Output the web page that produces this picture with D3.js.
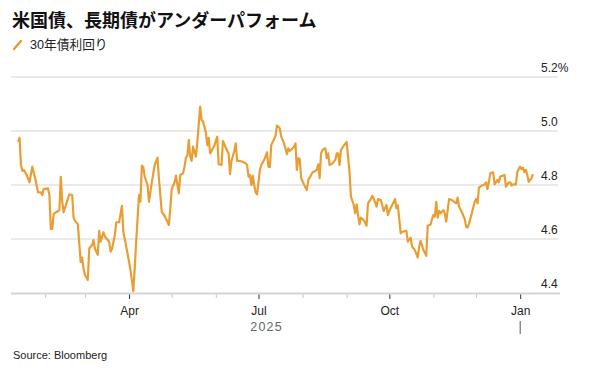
<!DOCTYPE html>
<html>
<head>
<meta charset="utf-8">
<script src="https://cdn.jsdelivr.net/npm/d3@7"></script>
<style>
  html, body { margin: 0; padding: 0; background: #fff; }
  svg { display: block; }
</style>
</head>
<body>
<svg id="chart" width="589" height="380"></svg>
<script>
const title = "米国債、長期債がアンダーパフォーム";
const seriesName = "30年債利回り";
const sourceText = "Source: Bloomberg";
const yTicks = [4.4, 4.6, 4.8, 5.0, 5.2];
const yTickLabels = ["4.4", "4.6", "4.8", "5.0", "5.2%"];
const monthLabels = { 0: "Jan", 3: "Apr", 6: "Jul", 9: "Oct" };
const yearLabel = "2025";

const dates = [
"2025-01-13","2025-01-14","2025-01-15","2025-01-16","2025-01-17","2025-01-19","2025-01-21","2025-01-23","2025-01-25","2025-01-27","2025-01-29","2025-01-30","2025-01-31",
"2025-02-03","2025-02-04","2025-02-05","2025-02-06","2025-02-07","2025-02-09","2025-02-11","2025-02-12","2025-02-13","2025-02-14","2025-02-16","2025-02-18","2025-02-20","2025-02-21","2025-02-22","2025-02-24","2025-02-26","2025-02-27","2025-02-28",
"2025-03-01","2025-03-03","2025-03-04","2025-03-06","2025-03-07","2025-03-08","2025-03-10","2025-03-11","2025-03-12","2025-03-14","2025-03-15","2025-03-18","2025-03-19","2025-03-20","2025-03-22","2025-03-23","2025-03-25","2025-03-27","2025-03-28","2025-03-30",
"2025-04-01","2025-04-02","2025-04-04","2025-04-05","2025-04-06","2025-04-08","2025-04-09","2025-04-10","2025-04-11","2025-04-12","2025-04-14","2025-04-15","2025-04-17","2025-04-19","2025-04-21","2025-04-22","2025-04-24","2025-04-26","2025-04-29","2025-04-30",
"2025-05-01","2025-05-03","2025-05-04","2025-05-05","2025-05-06","2025-05-07","2025-05-09","2025-05-10","2025-05-11","2025-05-12","2025-05-13","2025-05-14","2025-05-15","2025-05-16","2025-05-17","2025-05-18","2025-05-19","2025-05-21","2025-05-22","2025-05-23","2025-05-25","2025-05-26","2025-05-27","2025-05-28","2025-05-29","2025-05-31",
"2025-06-01","2025-06-02","2025-06-03","2025-06-05","2025-06-06","2025-06-07","2025-06-08","2025-06-10","2025-06-11","2025-06-12","2025-06-14","2025-06-15","2025-06-16","2025-06-18","2025-06-20","2025-06-22","2025-06-23","2025-06-24","2025-06-25","2025-06-26","2025-06-27","2025-06-28","2025-06-29","2025-06-30",
"2025-07-02","2025-07-03","2025-07-05","2025-07-07","2025-07-08","2025-07-09","2025-07-10","2025-07-12","2025-07-13","2025-07-14","2025-07-16","2025-07-17","2025-07-19","2025-07-21","2025-07-22","2025-07-23","2025-07-25","2025-07-26","2025-07-27","2025-07-28","2025-07-29","2025-07-30","2025-07-31",
"2025-08-02","2025-08-04","2025-08-05","2025-08-06","2025-08-08","2025-08-09","2025-08-11","2025-08-12","2025-08-13","2025-08-14","2025-08-15","2025-08-17","2025-08-18","2025-08-19","2025-08-20","2025-08-22","2025-08-24","2025-08-25","2025-08-26","2025-08-27","2025-08-28","2025-08-30",
"2025-09-01","2025-09-03","2025-09-04","2025-09-06","2025-09-07","2025-09-08","2025-09-09","2025-09-10","2025-09-11","2025-09-13","2025-09-15","2025-09-16","2025-09-18","2025-09-19","2025-09-20","2025-09-22","2025-09-23","2025-09-25","2025-09-26","2025-09-27","2025-09-29","2025-09-30",
"2025-10-02","2025-10-04","2025-10-05","2025-10-06","2025-10-07","2025-10-09","2025-10-10","2025-10-13","2025-10-14","2025-10-16","2025-10-17","2025-10-19","2025-10-21","2025-10-22","2025-10-23","2025-10-25","2025-10-27","2025-10-28","2025-10-30","2025-10-31",
"2025-11-01","2025-11-02","2025-11-03","2025-11-04","2025-11-05","2025-11-06","2025-11-08","2025-11-09","2025-11-10","2025-11-12","2025-11-14","2025-11-16","2025-11-17","2025-11-18","2025-11-19","2025-11-21","2025-11-23","2025-11-24","2025-11-25","2025-11-26","2025-11-28","2025-11-30",
"2025-12-01","2025-12-02","2025-12-03","2025-12-05","2025-12-07","2025-12-08","2025-12-09","2025-12-10","2025-12-11","2025-12-12","2025-12-13","2025-12-14","2025-12-16","2025-12-17","2025-12-18","2025-12-20","2025-12-21","2025-12-22","2025-12-24","2025-12-25","2025-12-26","2025-12-27","2025-12-29","2025-12-30",
"2026-01-01","2026-01-02","2026-01-03","2026-01-04","2026-01-05","2026-01-06","2026-01-07","2026-01-09","2026-01-10"
];

const yields = [
4.96,4.975,4.874,4.852,4.856,4.837,4.81,4.868,4.825,4.773,4.773,4.763,4.785,
4.788,4.763,4.637,4.637,4.693,4.70,4.707,4.83,4.738,4.699,4.732,4.765,4.763,4.679,4.667,4.654,4.514,4.531,4.491,
4.467,4.448,4.565,4.578,4.596,4.565,4.541,4.63,4.59,4.625,4.609,4.59,4.553,4.563,4.615,4.662,4.662,4.723,4.627,4.572,
4.516,4.485,4.407,4.491,4.59,4.763,4.738,4.872,4.866,4.831,4.80,4.738,4.81,4.874,4.901,4.825,4.70,4.686,4.652,4.714,
4.785,4.81,4.835,4.802,4.769,4.837,4.843,4.868,4.901,4.909,4.967,4.905,4.889,4.942,4.923,4.905,4.96,5.09,5.041,5.035,4.995,4.948,4.975,4.917,4.926,4.946,
4.963,4.979,4.877,4.874,4.963,4.951,4.938,4.917,4.84,4.889,4.926,4.954,4.889,4.889,4.886,4.88,4.874,4.831,4.837,4.80,4.835,4.80,4.773,4.765,
4.856,4.874,4.893,4.921,4.868,4.866,4.948,4.97,4.983,5.02,5.01,4.979,4.954,4.914,4.936,4.926,4.936,4.942,4.954,4.856,4.899,4.896,4.825,
4.802,4.781,4.819,4.827,4.847,4.849,4.856,4.877,4.825,4.917,4.93,4.936,4.899,4.917,4.874,4.88,4.893,4.917,4.917,4.874,4.93,4.946,
4.96,4.849,4.757,4.726,4.695,4.728,4.689,4.654,4.679,4.67,4.649,4.732,4.748,4.76,4.75,4.72,4.748,4.744,4.726,4.704,4.726,4.689,
4.716,4.736,4.748,4.714,4.724,4.621,4.627,4.63,4.59,4.605,4.572,4.559,4.531,4.572,4.593,4.559,4.538,4.649,4.654,4.674,
4.689,4.683,4.738,4.679,4.704,4.695,4.707,4.695,4.664,4.748,4.744,4.736,4.732,4.753,4.72,4.699,4.674,4.646,4.642,4.657,4.695,4.738,
4.748,4.732,4.79,4.798,4.802,4.81,4.785,4.81,4.843,4.846,4.847,4.802,4.819,4.81,4.831,4.835,4.837,4.794,4.81,4.81,4.798,4.802,4.802,4.849,
4.868,4.859,4.864,4.847,4.856,4.837,4.812,4.825,4.84
];

const lineColor = "#e99e34";
const sansFont = "'Liberation Sans', Arial, Helvetica, sans-serif";
const cjkFont = "'Noto Sans CJK JP', 'Noto Sans', sans-serif";

const parse = d3.utcParse("%Y-%m-%d");
const data = dates.map((d, i) => ({ date: parse(d), value: yields[i] }));

const svg = d3.select("#chart");

const x = d3.scaleUtc()
  .domain([parse("2025-01-08"), parse("2026-01-29")])
  .range([11, 560]);
const y = d3.scaleLinear().domain([4.4, 5.2]).range([293, 77]);

// Title
svg.append("text")
  .attr("x", 12).attr("y", 27)
  .attr("font-family", cjkFont)
  .attr("font-weight", 700)
  .attr("font-size", 18)
  .attr("fill", "#111")
  .text(title);

// Legend
svg.append("line")
  .attr("x1", 14).attr("y1", 49).attr("x2", 21).attr("y2", 41)
  .attr("stroke", lineColor).attr("stroke-width", 2.5).attr("stroke-linecap", "round");
svg.append("text")
  .attr("x", 30).attr("y", 49)
  .attr("font-family", sansFont + ", " + cjkFont)
  .attr("font-size", 12.7)
  .attr("fill", "#222")
  .text(seriesName);

// Gridlines
svg.append("g").selectAll("line")
  .data(yTicks.slice(1))
  .join("line")
  .attr("x1", 11).attr("x2", 558)
  .attr("y1", d => y(d)).attr("y2", d => y(d))
  .attr("stroke", "#d5d5d5").attr("stroke-width", 1);

// Y labels
svg.append("g").selectAll("text")
  .data(yTicks)
  .join("text")
  .attr("x", 541)
  .attr("y", d => y(d) - 5)
  .attr("font-family", sansFont)
  .attr("font-size", 12)
  .attr("fill", "#222")
  .text((d, i) => yTickLabels[i]);

// Minor month ticks
const months = d3.utcMonth.range(x.domain()[0], x.domain()[1]);
const minorAxis = d3.axisBottom(x)
  .tickValues(months.filter(m => !(m.getUTCMonth() in monthLabels)))
  .tickSize(5).tickFormat("");
const gMinor = svg.append("g").attr("transform", "translate(0,293)").call(minorAxis);
gMinor.select(".domain").remove();
gMinor.selectAll(".tick line").attr("stroke", "#c8c8c8");

// Major ticks with labels
const majorAxis = d3.axisBottom(x)
  .tickValues(months.filter(m => m.getUTCMonth() in monthLabels))
  .tickSize(6).tickPadding(7)
  .tickFormat(d => monthLabels[d.getUTCMonth()]);
const gMajor = svg.append("g").attr("transform", "translate(0,293)").call(majorAxis);
gMajor.select(".domain").remove();
gMajor.selectAll(".tick line").attr("stroke", "#333");
gMajor.selectAll(".tick text")
  .attr("font-family", sansFont)
  .attr("font-size", 12)
  .attr("fill", "#222");

// Baseline
svg.append("line")
  .attr("x1", 11).attr("x2", 560)
  .attr("y1", 293.5).attr("y2", 293.5)
  .attr("stroke", "#d5d5d5").attr("stroke-width", 2);

// Year label and year separator
const yearStart = parse("2025-01-08"), yearEnd = parse("2026-01-01");
svg.append("text")
  .attr("x", (x(yearStart) + x(yearEnd)) / 2 + 1)
  .attr("y", 331)
  .attr("text-anchor", "middle")
  .attr("font-family", sansFont)
  .attr("font-size", 12.5)
  .attr("letter-spacing", 1.2)
  .attr("fill", "#666")
  .text(yearLabel);
svg.append("line")
  .attr("x1", x(yearEnd)).attr("x2", x(yearEnd))
  .attr("y1", 321).attr("y2", 334)
  .attr("stroke", "#555").attr("stroke-width", 1);

// Line
const line = d3.line().x(d => x(d.date)).y(d => y(d.value)).curve(d3.curveLinear);
svg.append("path")
  .datum(data)
  .attr("d", line)
  .attr("fill", "none")
  .attr("stroke", lineColor)
  .attr("stroke-width", 2.2)
  .attr("stroke-linejoin", "round");

// Source
svg.append("text")
  .attr("x", 13).attr("y", 359)
  .attr("font-family", sansFont)
  .attr("font-size", 11)
  .attr("fill", "#222")
  .text(sourceText);
</script>
</body>
</html>
